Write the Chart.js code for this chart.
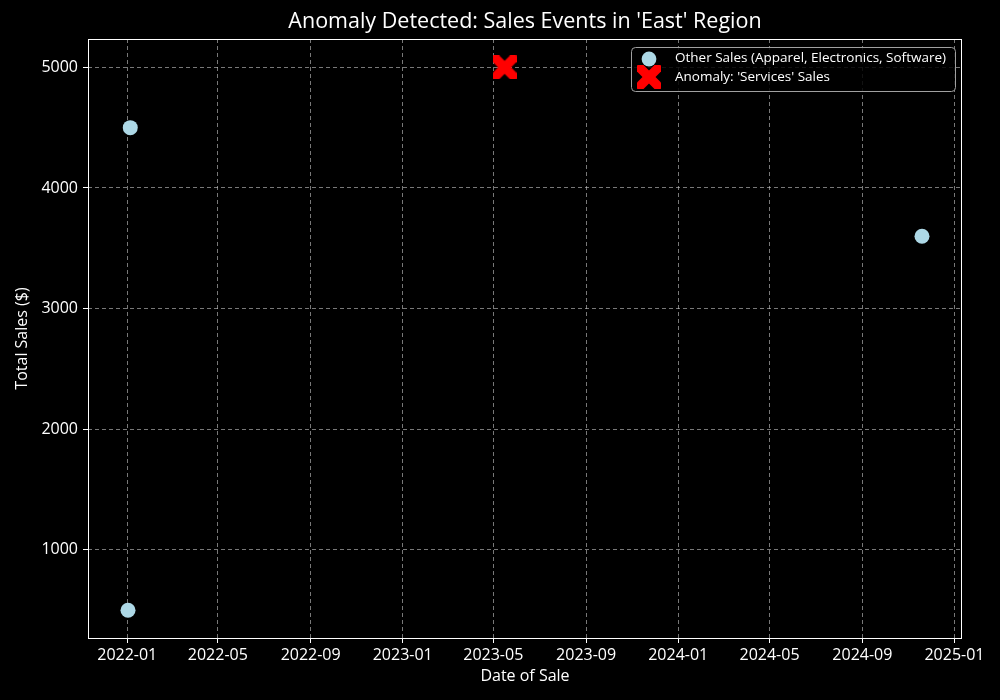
<!DOCTYPE html>
<html>
<head>
<meta charset="utf-8">
<style>
  html, body { margin: 0; padding: 0; background: #000; }
  #wrap { width: 1000px; height: 700px; }
</style>
<script src="https://cdn.jsdelivr.net/npm/chart.js@4.4.1/dist/chart.umd.min.js"></script>
</head>
<body>
<div id="wrap"><canvas id="chart" width="1000" height="700"></canvas></div>
<script>
// data
var otherDates = ['2022-01-05', '2022-01-02', '2024-11-19'];
var otherSales = [4500, 500, 3600];
var anomalyDates = ['2023-05-16'];
var anomalySales = [5000];
var xTickLabels = ['2022-01', '2022-05', '2022-09', '2023-01', '2023-05', '2023-09',
                   '2024-01', '2024-05', '2024-09', '2025-01'];
var yTickValues = [1000, 2000, 3000, 4000, 5000];

var FONT = '"Open Sans", "DejaVu Sans", sans-serif';

function toTime(s) {
    var p = s.split('-');
    return Date.UTC(+p[0], +p[1] - 1, p[2] ? +p[2] : 1);
}

function monthLabel(v) {
    var d = new Date(v);
    var m = d.getUTCMonth() + 1;
    return d.getUTCFullYear() + '-' + (m < 10 ? '0' + m : m);
}

// filled "X" marker like matplotlib's
function makeX(size, color) {
    var c = document.createElement('canvas');
    c.width = size; c.height = size;
    var g = c.getContext('2d');
    var h = size / 2, t = size / 6;
    g.translate(h, h);
    g.rotate(Math.PI / 4);
    g.fillStyle = color;
    var L = h * Math.SQRT2 * 0.98;
    g.fillRect(-L, -t * 1.15, 2 * L, 2 * t * 1.15);
    g.fillRect(-t * 1.15, -L, 2 * t * 1.15, 2 * L);
    return c;
}
var xMarker = makeX(24, '#ff0000');

var decorations = {
    id: 'decorations',
    beforeDatasetsDraw: function (chart) {
        var ctx = chart.ctx, a = chart.chartArea;
        ctx.save();
        ctx.strokeStyle = '#ffffff';
        ctx.lineWidth = 1;
        ctx.strokeRect(Math.round(a.left) + 0.5, Math.round(a.top) + 0.5,
                       Math.round(a.right - a.left) - 1, Math.round(a.bottom - a.top));
        ctx.restore();
    },
    afterDraw: function (chart) {
        var ctx = chart.ctx, a = chart.chartArea;
        var cx = (a.left + a.right) / 2;
        ctx.save();
        ctx.fillStyle = '#ffffff';
        ctx.textAlign = 'center';
        ctx.textBaseline = 'middle';
        ctx.font = '21.5px ' + FONT;
        ctx.fillText("Anomaly Detected: Sales Events in 'East' Region", cx, 22);
        ctx.font = '16px ' + FONT;
        ctx.fillText('Date of Sale', cx, 676);
        ctx.translate(22, (a.top + a.bottom) / 2);
        ctx.rotate(-Math.PI / 2);
        ctx.fillText('Total Sales ($)', 0, 0);
        ctx.restore();

        // legend box
        var bx = 631, by = 47, bw = 324, bh = 44;
        ctx.save();
        ctx.beginPath();
        ctx.roundRect(bx + 0.5, by + 0.5, bw, bh, 4);
        ctx.fillStyle = 'rgba(0,0,0,0.85)';
        ctx.fill();
        ctx.strokeStyle = '#a0a0a0';
        ctx.lineWidth = 1;
        ctx.stroke();

        var ds = chart.data.datasets;
        ctx.fillStyle = ds[0].backgroundColor;
        ctx.beginPath();
        ctx.arc(649, 59, 7.4, 0, Math.PI * 2);
        ctx.fill();
        ctx.drawImage(xMarker, 649 - 12, 77 - 12);

        ctx.fillStyle = '#ffffff';
        ctx.font = '13.5px ' + FONT;
        ctx.textAlign = 'left';
        ctx.textBaseline = 'middle';
        ctx.fillText(ds[0].label, 675, 58);
        ctx.fillText(ds[1].label, 675, 77);
        ctx.restore();
    }
};

var gridOpts = {
    color: 'rgba(200,200,200,0.6)',
    drawTicks: true,
    tickLength: 5,
    tickColor: '#ffffff',
    tickBorderDash: []
};

new Chart(document.getElementById('chart'), {
    type: 'scatter',
    data: {
        datasets: [{
            label: 'Other Sales (Apparel, Electronics, Software)',
            data: otherDates.map(function (d, i) { return { x: toTime(d), y: otherSales[i] }; }),
            backgroundColor: '#add8e6',
            borderWidth: 0,
            pointRadius: 7.5,
            pointHoverRadius: 7.5
        }, {
            label: "Anomaly: 'Services' Sales",
            data: anomalyDates.map(function (d, i) { return { x: toTime(d), y: anomalySales[i] }; }),
            backgroundColor: '#ff0000',
            pointStyle: xMarker,
            pointRadius: 12
        }]
    },
    options: {
        responsive: false,
        animation: false,
        layout: { padding: { top: 39, right: 38, left: 0, bottom: 0 } },
        plugins: {
            legend: { display: false },
            title: { display: false },
            tooltip: { enabled: false }
        },
        scales: {
            x: {
                type: 'linear',
                min: toTime('2021-11-10'),
                max: toTime('2025-01-11'),
                afterBuildTicks: function (scale) {
                    scale.ticks = xTickLabels.map(function (l) { return { value: toTime(l) }; });
                },
                afterFit: function (scale) { scale.height = 62; },
                border: { display: false, dash: [4, 3] },
                grid: gridOpts,
                ticks: {
                    color: '#ffffff',
                    font: { size: 16, family: FONT },
                    padding: 3,
                    maxRotation: 0,
                    autoSkip: false,
                    callback: function (v) { return monthLabel(v); }
                }
            },
            y: {
                min: 270,
                max: 5235,
                afterBuildTicks: function (scale) {
                    scale.ticks = yTickValues.map(function (v) { return { value: v }; });
                },
                afterFit: function (scale) { scale.width = 88; },
                border: { display: false, dash: [4, 3] },
                grid: gridOpts,
                ticks: {
                    color: '#ffffff',
                    font: { size: 16, family: FONT },
                    padding: 5,
                    callback: function (v) { return String(v); }
                }
            }
        }
    },
    plugins: [decorations]
});
</script>
</body>
</html>
